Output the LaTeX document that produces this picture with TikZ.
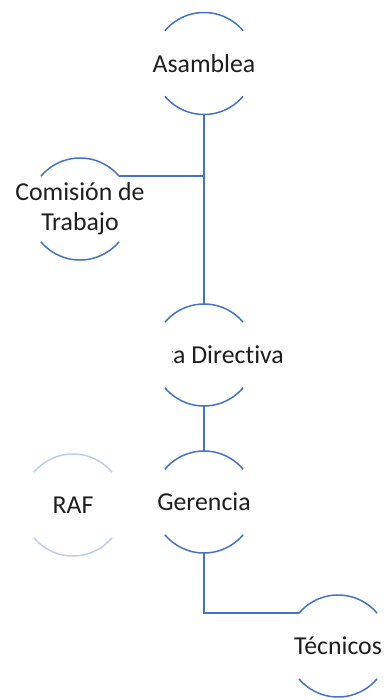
\documentclass[tikz,border=0pt]{standalone}
\usepackage{fontspec}
\setmainfont{Carlito}[Ligatures={NoCommon}]
\usetikzlibrary{positioning}
\definecolor{Office}{HTML}{4472C4}
\definecolor{Ink}{HTML}{1E1E1E}

\tikzset{
  ring/.style={circle, minimum size=102pt, inner sep=0pt, outer sep=0pt},
  lbl/.style={font=\fontsize{25.8}{30}\selectfont, text=Ink, align=center, inner sep=0pt},
  wire/.style={draw=Office, line width=1.5pt},
}

\begin{document}
\begin{tikzpicture}[x=1pt, y=1pt]
  \useasboundingbox (0,0) rectangle (386,-700);
  \node[ring] (asm) at (204,-63.5) {};
  \node[ring] (com) at (80,-209) {};
  \node[ring] (jd)  at (204,-355) {};
  \node[ring] (ger) at (204,-502) {};
  \node[ring] (raf) at (73,-505) {};
  \node[ring] (tec) at (338,-646) {};

  % top and bottom arcs of each ring
  \foreach \n in {asm,com,jd,ger,tec}
    \draw[wire] (\n.40) arc[start angle=40, end angle=140, radius=51pt]
                (\n.220) arc[start angle=220, end angle=320, radius=51pt];
  \draw[wire, draw=Office!35] (raf.40) arc[start angle=40, end angle=140, radius=51pt]
                (raf.220) arc[start angle=220, end angle=320, radius=51pt];

  \draw[wire] (asm.south) -- (jd.north);
  \draw[wire] (com.40) -- (com.40 -| asm);
  \draw[wire] (jd.south) -- (ger.north);
  \draw[wire] (ger.south) |- (tec.140);

  \node[lbl] (asmtxt) at (asm) {Asamblea};
  \node[lbl] (comtxt) at (com) {Comisión de\\Trabajo};
  \node[lbl] (gertxt) at (ger) {Gerencia};
  \node[lbl] (raftxt) at (raf) {RAF};
  \node[lbl] (tectxt) at (tec) {Técnicos};
  \begin{scope}
    \clip (172.5,-320) rectangle (386,-390);
    \node[lbl, anchor=east] (jdtxt) at (284,-355) {Junta Directiva};
  \end{scope}
\end{tikzpicture}
\end{document}
